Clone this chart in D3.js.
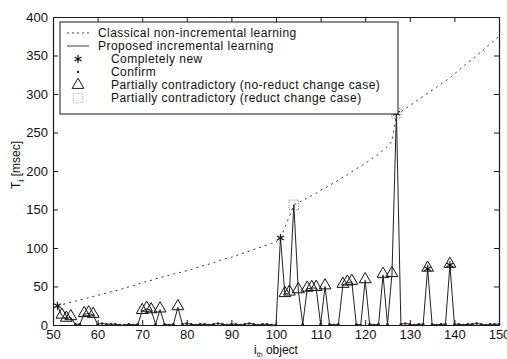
<!DOCTYPE html>
<html>
<head>
<meta charset="utf-8">
<script src="https://cdn.jsdelivr.net/npm/d3@7"></script>
<style>
body { margin: 0; background: #fff; }
text { font-family: "Liberation Sans", Arial, sans-serif; fill: #111; }
</style>
</head>
<body>
<div id="chart"></div>
<script>
'use strict';

// object index 51..150
var objects = d3.range(51, 151);

var classical = [
    25, 26.5, 28, 29.5, 31, 32.5, 34, 35.5, 37, 38.5,
    40, 41.5, 43, 44.5, 46, 48, 49.5, 51, 53, 55,
    56.5, 58, 60, 61.5, 63, 64.5, 66, 67.5, 69, 70.5,
    72, 74, 76, 77.5, 79, 81, 83, 85, 86.5, 88,
    90, 92, 94, 96, 98, 100, 102, 104, 106, 108,
    113, 127, 141, 156, 159, 162, 165, 168, 171, 175,
    178, 181, 185, 188, 192, 195, 199, 203, 206, 210,
    214, 218, 222, 227, 232, 238, 273, 277, 281, 285,
    289, 293, 297, 301, 305, 309, 313, 317, 321, 326,
    331, 336, 341, 345, 350, 355, 360, 365, 370, 375
];

var incremental = [
    25, 12, 8, 10, 1, 1, 14, 15, 13, 1,
    2, 1, 1, 1, 0, 0, 1, 0, 1, 18,
    21, 19, 1, 20, 1, 0, 1, 23, 1, 2,
    1, 0, 1, 1, 0, 1, 2, 1, 0, 1,
    1, 0, 1, 2, 1, 0, 1, 1, 0, 0,
    113, 40, 42, 156, 45, 1, 47, 48, 48, 1,
    50, 1, 0, 1, 52, 55, 56, 1, 0, 58,
    1, 0, 1, 65, 1, 66, 275, 1, 2, 1,
    0, 1, 1, 73, 1, 0, 1, 1, 78, 1,
    1, 0, 1, 1, 2, 1, 0, 1, 1, 1
];

var newPts = [51, 101, 127, 134, 139];
var contraPts = [52, 53, 54, 57, 58, 59, 70, 71, 72, 74, 78, 102, 103, 105, 107, 108, 109,
                 111, 115, 116, 117, 120, 124, 126, 134, 139];
var reductPts = [104, 127];

var xTicks = d3.range(50, 151, 10);
var yTicks = d3.range(0, 401, 50);

var legendLabels = [
    "Classical non-incremental learning",
    "Proposed incremental learning",
    "Completely new",
    "Confirm",
    "Partially contradictory (no-reduct change case)",
    "Partially contradictory (reduct change case)"
];

drawChart();

function drawChart() {
    var width = 507, height = 359;
    var left = 53, right = 499, top = 17, bottom = 325;

    var svg = d3.select("#chart").append("svg")
        .attr("width", width)
        .attr("height", height);

    var x = d3.scaleLinear().domain([50, 150]).range([left, right]);
    var y = d3.scaleLinear().domain([0, 400]).range([bottom, top]);

    var ink = "#1a1a1a";

    // axes (matlab style, ticks inside, box)
    svg.append("g")
        .attr("transform", "translate(0," + bottom + ")")
        .call(d3.axisBottom(x).tickValues(xTicks).tickSizeInner(-5).tickSizeOuter(0).tickPadding(5))
        .call(styleAxis);
    svg.append("g")
        .attr("transform", "translate(0," + top + ")")
        .call(d3.axisTop(x).tickValues(xTicks).tickSizeInner(-5).tickSizeOuter(0).tickFormat(""))
        .call(styleAxis);
    svg.append("g")
        .attr("transform", "translate(" + left + ",0)")
        .call(d3.axisLeft(y).tickValues(yTicks).tickSizeInner(-5).tickSizeOuter(0).tickPadding(5))
        .call(styleAxis);
    svg.append("g")
        .attr("transform", "translate(" + right + ",0)")
        .call(d3.axisRight(y).tickValues(yTicks).tickSizeInner(-5).tickSizeOuter(0).tickFormat(""))
        .call(styleAxis);

    function styleAxis(g) {
        g.select(".domain").attr("stroke", ink).attr("stroke-width", 1.2);
        g.selectAll(".tick line").attr("stroke", ink);
        g.selectAll(".tick text").style("font-size", "13px").attr("fill", ink);
    }

    var pts = objects.map(function (o, i) {
        return { o: o, c: classical[i], v: incremental[i] };
    });

    // classical line
    svg.append("path")
        .datum(pts)
        .attr("fill", "none")
        .attr("stroke", "#333")
        .attr("stroke-width", 1)
        .attr("stroke-dasharray", "2,4")
        .attr("d", d3.line().x(function (d) { return x(d.o); }).y(function (d) { return y(d.c); }));

    // incremental line
    svg.append("path")
        .datum(pts)
        .attr("fill", "none")
        .attr("stroke", "#222")
        .attr("stroke-width", 1)
        .attr("d", d3.line().x(function (d) { return x(d.o); }).y(function (d) { return y(d.v); }));

    var special = newPts.concat(contraPts, reductPts);

    // confirm dots
    svg.append("g").selectAll("circle")
        .data(pts.filter(function (d) { return special.indexOf(d.o) < 0; }))
        .enter().append("circle")
        .attr("cx", function (d) { return x(d.o); })
        .attr("cy", function (d) { return y(d.v); })
        .attr("r", 1.3)
        .attr("fill", "#222");

    var tri = d3.symbol().type(d3.symbolTriangle).size(60);
    var star = d3.symbol().type(d3.symbolAsterisk).size(45);
    var square = d3.symbol().type(d3.symbolSquare).size(90);

    function byObj(list) {
        return pts.filter(function (d) { return list.indexOf(d.o) >= 0; });
    }

    svg.append("g").selectAll("path")
        .data(byObj(contraPts))
        .enter().append("path")
        .attr("d", tri)
        .attr("transform", function (d) { return "translate(" + x(d.o) + "," + (y(d.v) - 1) + ")"; })
        .attr("fill", "none")
        .attr("stroke", "#111")
        .attr("stroke-width", 1);

    svg.append("g").selectAll("path")
        .data(byObj(newPts))
        .enter().append("path")
        .attr("d", star)
        .attr("transform", function (d) { return "translate(" + x(d.o) + "," + y(d.v) + ")"; })
        .attr("fill", "none")
        .attr("stroke", "#111")
        .attr("stroke-width", 1.2);

    svg.append("g").selectAll("path")
        .data(byObj(reductPts))
        .enter().append("path")
        .attr("d", square)
        .attr("transform", function (d) { return "translate(" + x(d.o) + "," + y(d.v) + ")"; })
        .attr("fill", "none")
        .attr("stroke", "#777")
        .attr("stroke-width", 1)
        .attr("stroke-dasharray", "1,1.5");

    // legend
    var lg = svg.append("g");
    lg.append("rect")
        .attr("x", 60).attr("y", 22)
        .attr("width", 338).attr("height", 92)
        .attr("fill", "#fff")
        .attr("stroke", ink)
        .attr("stroke-width", 1);

    var rowY = [33, 46, 59, 72, 85, 98];
    legendLabels.forEach(function (t, i) {
        lg.append("text")
            .attr("x", i < 2 ? 98 : 111)
            .attr("y", rowY[i] + 4)
            .style("font-size", "12px")
            .style("letter-spacing", "0.45px")
            .text(t);
    });
    lg.append("line").attr("x1", 67).attr("x2", 89).attr("y1", rowY[0]).attr("y2", rowY[0])
        .attr("stroke", "#444").attr("stroke-dasharray", "2,3");
    lg.append("line").attr("x1", 67).attr("x2", 89).attr("y1", rowY[1]).attr("y2", rowY[1])
        .attr("stroke", "#444");
    lg.append("path").attr("d", star).attr("transform", "translate(78," + rowY[2] + ")")
        .attr("fill", "none").attr("stroke", "#111").attr("stroke-width", 1.2);
    lg.append("circle").attr("cx", 78).attr("cy", rowY[3]).attr("r", 1.2).attr("fill", "#222");
    lg.append("path").attr("d", tri).attr("transform", "translate(78," + rowY[4] + ")")
        .attr("fill", "none").attr("stroke", "#111");
    lg.append("path").attr("d", square).attr("transform", "translate(78," + rowY[5] + ")")
        .attr("fill", "none").attr("stroke", "#999").attr("stroke-dasharray", "1,1.5");

    // axis labels
    var yl = svg.append("text")
        .attr("transform", "translate(20,165) rotate(-90)")
        .attr("text-anchor", "middle")
        .style("font-size", "12px");
    yl.append("tspan").text("T");
    yl.append("tspan").attr("dy", 4).style("font-size", "9px").text("i");
    yl.append("tspan").attr("dy", -4).text(" [msec]");

    var xl = svg.append("text")
        .attr("x", 276).attr("y", 354)
        .attr("text-anchor", "middle")
        .style("font-size", "12px");
    xl.append("tspan").text("i");
    xl.append("tspan").attr("dy", 3).style("font-size", "7px").text("th");
    xl.append("tspan").attr("dy", -3).text(" object");
}
</script>
</body>
</html>
